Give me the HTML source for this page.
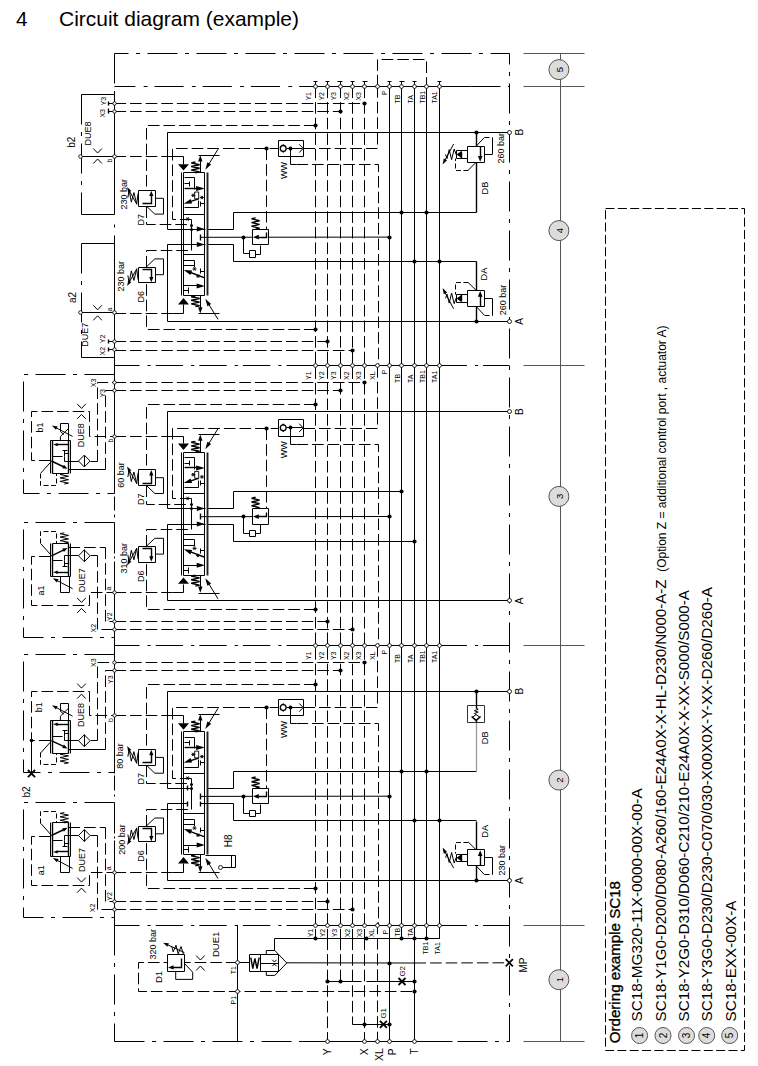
<!DOCTYPE html>
<html><head><meta charset="utf-8"><title>Circuit diagram (example)</title>
<style>
html,body{margin:0;padding:0;background:#fff}
svg{display:block}
text{font-family:"Liberation Sans",sans-serif;fill:#000}
.s{fill:none;stroke:#000;stroke-width:1}
.sw{fill:#fff;stroke:#000;stroke-width:1}
.t{fill:none;stroke:#000;stroke-width:.9}
.b{fill:none;stroke:#000;stroke-width:1.4}
.d2{fill:none;stroke:#000;stroke-width:1;stroke-dasharray:5 2.5}
.bx{fill:none;stroke:#000;stroke-width:1.8}
.bb{fill:none;stroke:#222;stroke-width:1.9}
.d{fill:none;stroke:#000;stroke-width:1;stroke-dasharray:11.6 4}
.dl{fill:none;stroke:#000;stroke-width:1;stroke-dasharray:9 3.35}
.dd{fill:none;stroke:#000;stroke-width:1;stroke-dasharray:30 7.5 4 7.5}
.dd1{stroke-dashoffset:16}
.dd2{fill:none;stroke:#000;stroke-width:1;stroke-dasharray:29.1 8.3 3.8 7;stroke-dashoffset:8.2}
.dd3{fill:none;stroke:#000;stroke-width:1;stroke-dasharray:27.4 8 3.2 5;stroke-dashoffset:2.4}
.dd4{fill:none;stroke:#000;stroke-width:1;stroke-dasharray:27.4 8 3.2 5}
.g{fill:none;stroke:#555;stroke-width:1}
.gw{fill:#fff;stroke:#333;stroke-width:1}
.g2{fill:none;stroke:#999;stroke-width:1.3}
.k{fill:#000;stroke:none}
.o{fill:#fff;stroke:#000;stroke-width:.85}
.o2{fill:#fff;stroke:#000;stroke-width:1.3}
.bal{fill:#dcdcdc;stroke:#555;stroke-width:1}
.hb{stroke:#000;stroke-width:.35}
</style></head><body>
<svg width="758" height="1066" viewBox="0 0 758 1066">
<rect width="758" height="1066" fill="#fff"/>
<text x="16" y="25.8" font-size="20.6">4</text>
<text x="59" y="25.8" font-size="20.6" textLength="240" lengthAdjust="spacingAndGlyphs">Circuit diagram (example)</text>
<path class="dd dd1" d="M114.5 53.5 L509.5 53.5 L509.5 1041.5 L114.5 1041.5"/>
<path class="dd" d="M114.5 53.5 L114.5 94.5"/>
<path class="s" d="M114.5 94.5 L114.5 214.5"/>
<path class="s" d="M114.5 224.5 L114.5 227.5"/>
<path class="s" d="M114.5 235.5 L114.5 365.5"/>
<path class="s" d="M114.5 365.5 L114.5 493.5"/>
<path class="s" d="M114.5 496.5 L114.5 510.5"/>
<path class="s" d="M114.5 514.5 L114.5 517.5"/>
<path class="s" d="M114.5 522.5 L114.5 553.5"/>
<path class="s" d="M114.5 556.5 L114.5 558.5"/>
<path class="s" d="M114.5 561.5 L114.5 645.5"/>
<path class="s" d="M114.5 645.5 L114.5 773.5"/>
<path class="s" d="M114.5 775.5 L114.5 790.5"/>
<path class="s" d="M114.5 794.5 L114.5 796.5"/>
<path class="s" d="M114.5 802.5 L114.5 833.5"/>
<path class="s" d="M114.5 836.5 L114.5 838.5"/>
<path class="s" d="M114.5 840.5 L114.5 925.5"/>
<path class="dd" d="M114.5 925.5 L114.5 1041.5"/>
<path class="dd2" d="M114.5 86.5 L315.5 86.5"/>
<path class="s" d="M315.5 86.5 L470.5 86.5"/>
<path class="dd" d="M470.5 86.5 L509.5 86.5"/>
<path class="dd3" d="M114.5 365.5 L315.5 365.5"/>
<path class="s" d="M315.5 365.5 L439.5 365.5"/>
<path class="dd4" d="M439.5 365.5 L509.5 365.5"/>
<path class="dd3" d="M114.5 645.5 L315.5 645.5"/>
<path class="s" d="M315.5 645.5 L439.5 645.5"/>
<path class="dd4" d="M439.5 645.5 L509.5 645.5"/>
<path class="dd3" d="M114.5 925.5 L315.5 925.5"/>
<path class="s" d="M315.5 925.5 L439.5 925.5"/>
<path class="dd4" d="M439.5 925.5 L509.5 925.5"/>
<path class="s" d="M300.5 1041.5 L452.5 1041.5"/>
<path class="g" d="M560.5 53.5 L560.5 1041.5"/>
<path class="g" d="M523.5 53.5 L584.5 53.5"/>
<path class="g" d="M523.5 86.5 L584.5 86.5"/>
<path class="g" d="M523.5 365.5 L584.5 365.5"/>
<path class="g" d="M523.5 645.5 L584.5 645.5"/>
<path class="g" d="M523.5 925.5 L584.5 925.5"/>
<path class="g" d="M523.5 1041.5 L584.5 1041.5"/>
<circle class="bal" cx="558.9" cy="69.6" r="10"/>
<text x="563.2" y="69.6" font-size="9.5" text-anchor="middle" transform="rotate(-90 563.2 69.6)">5</text>
<circle class="bal" cx="558.9" cy="230.6" r="10"/>
<text x="563.2" y="230.6" font-size="9.5" text-anchor="middle" transform="rotate(-90 563.2 230.6)">4</text>
<circle class="bal" cx="558.9" cy="496.4" r="10"/>
<text x="563.2" y="496.4" font-size="9.5" text-anchor="middle" transform="rotate(-90 563.2 496.4)">3</text>
<circle class="bal" cx="558.9" cy="780.1" r="10"/>
<text x="563.2" y="780.1" font-size="9.5" text-anchor="middle" transform="rotate(-90 563.2 780.1)">2</text>
<circle class="bal" cx="558.9" cy="979.7" r="10"/>
<text x="563.2" y="979.7" font-size="9.5" text-anchor="middle" transform="rotate(-90 563.2 979.7)">1</text>
<path class="d" d="M315.5 86.5 L315.5 938.5"/>
<path class="d" d="M327.5 86.5 L327.5 938.5"/>
<path class="d" d="M340.5 86.5 L340.5 938.5"/>
<path class="d" d="M352.5 86.5 L352.5 938.5"/>
<path class="d" d="M364.5 86.5 L364.5 938.5"/>
<path class="s" d="M389.5 86.5 L389.5 938.5"/>
<path class="s" d="M401.5 86.5 L401.5 938.5"/>
<path class="s" d="M414.5 86.5 L414.5 938.5"/>
<path class="s" d="M426.5 86.5 L426.5 938.5"/>
<path class="s" d="M439.5 86.5 L439.5 938.5"/>
<text x="311.5" y="100.6" font-size="7" text-anchor="start" transform="rotate(-90 311.5 100.6)">Y1</text>
<text x="323.8" y="100.6" font-size="7" text-anchor="start" transform="rotate(-90 323.8 100.6)">Y2</text>
<text x="336.2" y="100.6" font-size="7" text-anchor="start" transform="rotate(-90 336.2 100.6)">Y3</text>
<text x="348.7" y="100.6" font-size="7" text-anchor="start" transform="rotate(-90 348.7 100.6)">X2</text>
<text x="360.9" y="100.6" font-size="7" text-anchor="start" transform="rotate(-90 360.9 100.6)">X3</text>
<text x="387.2" y="95.0" font-size="7" text-anchor="start" transform="rotate(-90 387.2 95.0)">P</text>
<text x="400.0" y="103.6" font-size="7" text-anchor="start" transform="rotate(-90 400.0 103.6)">TB</text>
<text x="412.7" y="103.6" font-size="7" text-anchor="start" transform="rotate(-90 412.7 103.6)">TA</text>
<text x="424.9" y="103.6" font-size="7" text-anchor="start" transform="rotate(-90 424.9 103.6)">TB1</text>
<text x="437.4" y="103.6" font-size="7" text-anchor="start" transform="rotate(-90 437.4 103.6)">TA1</text>
<text x="311.5" y="379.9" font-size="7" text-anchor="start" transform="rotate(-90 311.5 379.9)">Y1</text>
<text x="323.8" y="379.9" font-size="7" text-anchor="start" transform="rotate(-90 323.8 379.9)">Y2</text>
<text x="336.2" y="379.9" font-size="7" text-anchor="start" transform="rotate(-90 336.2 379.9)">Y3</text>
<text x="348.7" y="379.9" font-size="7" text-anchor="start" transform="rotate(-90 348.7 379.9)">X2</text>
<text x="360.9" y="379.9" font-size="7" text-anchor="start" transform="rotate(-90 360.9 379.9)">X3</text>
<text x="375.5" y="379.9" font-size="7" text-anchor="start" transform="rotate(-90 375.5 379.9)">XL</text>
<text x="387.2" y="374.3" font-size="7" text-anchor="start" transform="rotate(-90 387.2 374.3)">P</text>
<text x="400.0" y="382.9" font-size="7" text-anchor="start" transform="rotate(-90 400.0 382.9)">TB</text>
<text x="412.7" y="382.9" font-size="7" text-anchor="start" transform="rotate(-90 412.7 382.9)">TA</text>
<text x="424.9" y="382.9" font-size="7" text-anchor="start" transform="rotate(-90 424.9 382.9)">TB1</text>
<text x="437.4" y="382.9" font-size="7" text-anchor="start" transform="rotate(-90 437.4 382.9)">TA1</text>
<text x="311.5" y="660.1" font-size="7" text-anchor="start" transform="rotate(-90 311.5 660.1)">Y1</text>
<text x="323.8" y="660.1" font-size="7" text-anchor="start" transform="rotate(-90 323.8 660.1)">Y2</text>
<text x="336.2" y="660.1" font-size="7" text-anchor="start" transform="rotate(-90 336.2 660.1)">Y3</text>
<text x="348.7" y="660.1" font-size="7" text-anchor="start" transform="rotate(-90 348.7 660.1)">X2</text>
<text x="360.9" y="660.1" font-size="7" text-anchor="start" transform="rotate(-90 360.9 660.1)">X3</text>
<text x="375.5" y="660.1" font-size="7" text-anchor="start" transform="rotate(-90 375.5 660.1)">XL</text>
<text x="387.2" y="654.5" font-size="7" text-anchor="start" transform="rotate(-90 387.2 654.5)">P</text>
<text x="400.0" y="663.1" font-size="7" text-anchor="start" transform="rotate(-90 400.0 663.1)">TB</text>
<text x="412.7" y="663.1" font-size="7" text-anchor="start" transform="rotate(-90 412.7 663.1)">TA</text>
<text x="424.9" y="663.1" font-size="7" text-anchor="start" transform="rotate(-90 424.9 663.1)">TB1</text>
<text x="437.4" y="663.1" font-size="7" text-anchor="start" transform="rotate(-90 437.4 663.1)">TA1</text>
<path class="s" d="M509.5 132.5 L167.5 132.5 L167.5 229.5 L205.5 229.5"/>
<path class="s" d="M509.5 321.5 L167.5 321.5 L167.5 244.5 L205.5 244.5"/>
<text x="523.2" y="135.5" font-size="10" text-anchor="start" transform="rotate(-90 523.2 135.5)">B</text>
<text x="523.2" y="324.8" font-size="10" text-anchor="start" transform="rotate(-90 523.2 324.8)">A</text>
<path class="s" d="M207.5 229.5 L233.5 229.5 L233.5 212.5 L476.5 212.5"/>
<path class="s" d="M207.5 244.5 L233.5 244.5 L233.5 261.5 L476.5 261.5"/>
<circle class="k" cx="401.5" cy="212.5" r="2.1"/>
<circle class="k" cx="414.5" cy="261.5" r="2.1"/>
<circle class="k" cx="426.5" cy="212.5" r="2.1"/>
<circle class="k" cx="439.5" cy="261.5" r="2.1"/>
<path class="s" d="M200.7 237.3 L389.5 237.1"/>
<circle class="k" cx="389.5" cy="237.5" r="2.1"/>
<path class="sw" d="M252.5 229.5 L268.5 229.5 L268.5 244.5 L252.5 244.5 Z"/>
<circle class="k" cx="243.5" cy="237.5" r="2.0"/>
<polygon class="k" points="253.0,237.2 258.8,234.8 258.8,239.6"/>
<path class="s" d="M243.5 237.5 L243.5 253.5 L249.5 253.5"/>
<path class="sw" d="M249.5 250.5 L255.5 250.5 L255.5 257.5 L249.5 257.5 Z"/>
<path class="s" d="M255.5 254.5 L260.5 254.5 L260.5 245.5"/>
<path class="b" d="M255.6 229.1 L259.6 228.2 L251.6 226.3 L259.6 224.4 L251.6 222.6 L259.6 220.7 L251.6 218.8 L255.6 217.9"/>
<path class="b" d="M266.5 232.5 L266.5 237.5 L258.5 237.5"/>
<path class="d" d="M191.5 219.5 L172.5 219.5 L172.5 148.5 L278.5 148.5"/>
<circle class="k" cx="266.5" cy="148.5" r="2.1"/>
<path class="d" d="M266.5 148.5 L266.5 229.5"/>
<path class="s" d="M278.5 140.5 L303.5 140.5 L303.5 156.5 L278.5 156.5 Z"/>
<circle class="o2" cx="283.2" cy="148.4" r="2.9"/>
<circle class="k" cx="290.5" cy="148.5" r="2.0"/>
<path class="s" d="M286.5 148.5 L302.5 148.5"/>
<path class="s" d="M299.2 144.3 L303.2 148.4 L299.2 152.6"/>
<polygon class="k" points="283.2,143.9 281.6,145.8 284.8,145.8"/>
<polygon class="k" points="283.2,152.9 281.6,151.0 284.8,151.0"/>
<path class="s" d="M290.5 148.5 L290.5 164.5 L296.5 164.5"/>
<text x="286.9" y="178.9" font-size="9" text-anchor="start" transform="rotate(-90 286.9 178.9)">WW</text>
<path class="d" d="M303.5 148.5 L377.5 148.5 L377.5 86.5"/>
<path class="d" d="M296.5 164.5 L378.5 164.5 L378.5 365.5"/>
<path class="d" d="M114.5 156.5 L172.5 156.5"/>
<path class="s" d="M172.5 156.5 L183.5 156.5 L183.5 164.5"/>
<path class="d" d="M114.5 313.5 L172.5 313.5"/>
<path class="s" d="M172.5 313.5 L183.5 313.5 L183.5 304.5"/>
<path class="d" d="M114.5 103.5 L364.5 103.5"/>
<circle class="k" cx="364.5" cy="103.5" r="2.1"/>
<path class="d" d="M114.5 111.5 L340.5 111.5"/>
<circle class="k" cx="340.5" cy="111.5" r="2.1"/>
<path class="d" d="M114.5 341.5 L327.5 341.5"/>
<circle class="k" cx="327.5" cy="341.5" r="2.1"/>
<path class="d" d="M114.5 350.5 L352.5 350.5"/>
<circle class="k" cx="352.5" cy="350.5" r="2.1"/>
<path class="d" d="M315.5 125.5 L146.5 125.5 L146.5 190.5"/>
<circle class="k" cx="315.5" cy="125.5" r="2.1"/>
<path class="s" d="M138.5 190.5 L155.5 190.5 L155.5 206.5 L138.5 206.5 Z"/>
<path class="b" d="M142.5 203.5 L151.5 203.5 L151.5 194.5"/>
<polygon class="k" points="151.3,190.7 149.2,196.1 153.4,196.1"/>
<path class="s" d="M155.5 198.3 L163.5 198.3 L163.5 214.1 L154.8 214.1 L146.7 206.4"/>
<path class="s" d="M138.1 193.4 L136.7 204.1 L133.9 192.6 L131.3 202.1 L129.1 189.8 L127.9 197.6"/>
<path class="s" d="M136.9 204.4 L128.7 189.9"/>
<polygon class="k" points="127.1,187.0 131.4,190.9 128.2,192.7"/>
<path class="d" d="M146.5 206.5 L146.5 224.5 L191.5 224.5"/>
<path class="d" d="M315.5 329.5 L146.5 329.5 L146.5 282.5"/>
<circle class="k" cx="315.5" cy="329.5" r="2.1"/>
<path class="s" d="M138.5 267.5 L155.5 267.5 L155.5 282.5 L138.5 282.5 Z"/>
<path class="b" d="M142.5 269.5 L151.5 269.5 L151.5 278.5"/>
<polygon class="k" points="151.3,282.3 149.2,276.9 153.4,276.9"/>
<path class="s" d="M155.5 274.7 L163.5 274.7 L163.5 258.9 L154.8 258.9 L146.7 266.6"/>
<path class="s" d="M138.1 279.6 L136.7 268.9 L133.9 280.4 L131.3 270.9 L129.1 283.2 L127.9 275.4"/>
<path class="s" d="M136.9 268.6 L128.7 283.1"/>
<polygon class="k" points="127.1,286.0 128.2,280.3 131.4,282.1"/>
<path class="d" d="M146.5 267.5 L146.5 250.5 L191.5 250.5"/>
<path class="s" d="M181.5 172.5 L181.5 295.5"/>
<path class="s" d="M183.5 172.5 L183.5 295.5"/>
<path class="s" d="M204.5 172.5 L204.5 295.5"/>
<path class="bb" d="M207.5 172.5 L207.5 295.5"/>
<path class="s" d="M183.5 172.5 L204.5 172.5"/>
<path class="s" d="M183.5 214.5 L204.5 214.5"/>
<path class="s" d="M183.5 254.5 L204.5 254.5"/>
<path class="s" d="M183.5 295.5 L204.5 295.5"/>
<polygon class="k" points="178.0,164.2 189.0,164.2 183.5,170.6"/>
<path class="b" d="M195.4 172.8 L199.6 171.9 L191.2 170.1 L199.6 168.3 L191.2 166.5 L199.6 164.7 L191.2 162.9 L195.4 162.0"/>
<path class="s" d="M200.5 172.5 L200.5 158.5"/>
<polygon class="k" points="200.3,155.2 198.1,161.4 202.5,161.4"/>
<path class="s" d="M198.5 155.5 L219.5 155.5"/>
<path class="s" d="M218.0 149.2 L207.7 166.0"/>
<polygon class="k" points="205.3,169.8 207.4,162.3 211.1,164.6"/>
<polygon class="k" points="178.0,304.4 189.0,304.4 183.5,298.0"/>
<path class="b" d="M195.4 295.8 L191.2 296.7 L199.6 298.5 L191.2 300.3 L199.6 302.1 L191.2 303.9 L199.6 305.7 L195.4 306.6"/>
<path class="s" d="M200.5 295.5 L200.5 310.5"/>
<polygon class="k" points="200.3,313.4 198.1,307.2 202.5,307.2"/>
<path class="s" d="M198.5 313.5 L219.5 313.5"/>
<path class="s" d="M218.0 319.4 L207.7 302.6"/>
<polygon class="k" points="205.3,298.8 211.1,304.0 207.4,306.3"/>
<path class="s" d="M184.5 177.5 L194.5 177.5 L194.5 189.5"/>
<path class="s" d="M184.5 183.5 L189.5 183.5"/>
<path class="s" d="M189.5 181.5 L189.5 186.5"/>
<path class="b" d="M184.5 188.5 L198.5 188.5"/>
<polygon class="k" points="204.9,188.5 196.1,186.0 196.1,191.0"/>
<path class="b" d="M198.7 198.9 L190.0 201.7"/>
<polygon class="k" points="183.7,203.7 190.6,199.0 192.1,203.5"/>
<path class="t" d="M191.2 195.3 L195.2 195.3"/>
<path class="t" d="M192.2 193.6 L194.2 197.0"/>
<path class="t" d="M194.2 193.6 L192.2 197.0"/>
<path class="t" d="M199.9 197.5 L203.9 197.5"/>
<path class="t" d="M200.9 195.8 L202.9 199.2"/>
<path class="t" d="M202.9 195.8 L200.9 199.2"/>
<path class="t" d="M194.7 192.0 L198.7 192.0 L198.7 198.9 L194.7 198.9 Z"/>
<path class="s" d="M200.5 201.5 L200.5 206.5"/>
<path class="s" d="M200.5 203.5 L204.5 203.5"/>
<path class="s" d="M184.5 207.5 L198.5 207.5 L198.5 200.5"/>
<path class="s" d="M183.5 260.5 L194.5 260.5 L194.5 267.5"/>
<path class="s" d="M183.5 265.5 L194.5 265.5"/>
<path class="b" d="M204.1 277.6 L190.5 272.5"/>
<polygon class="k" points="183.8,269.9 192.1,270.5 190.4,275.0"/>
<path class="t" d="M192.5 269.0 L196.5 269.0"/>
<path class="t" d="M193.5 267.3 L195.5 270.7"/>
<path class="t" d="M195.5 267.3 L193.5 270.7"/>
<path class="t" d="M196.0 276.1 L200.0 276.1"/>
<path class="t" d="M197.0 274.4 L199.0 277.8"/>
<path class="t" d="M199.0 274.4 L197.0 277.8"/>
<path class="s" d="M200.5 268.5 L200.5 273.5"/>
<path class="s" d="M200.5 271.5 L204.5 271.5"/>
<path class="s" d="M183.5 285.5 L198.5 285.5"/>
<polygon class="k" points="204.9,285.9 196.7,283.4 196.7,288.4"/>
<path class="s" d="M188.5 287.5 L188.5 293.5"/>
<path class="s" d="M183.5 290.5 L188.5 290.5"/>
<path class="t" d="M185.7 219.0 L189.7 219.0"/>
<path class="t" d="M186.7 217.3 L188.7 220.7"/>
<path class="t" d="M188.7 217.3 L186.7 220.7"/>
<path class="s" d="M191.5 219.5 L191.5 250.5"/>
<circle class="k" cx="191.5" cy="225.5" r="1.5"/>
<circle class="k" cx="191.5" cy="229.5" r="1.5"/>
<path class="b" d="M200.5 234.5 L200.5 240.5"/>
<polygon class="k" points="204.9,229.1 196.8,226.6 196.8,231.6"/>
<polygon class="k" points="204.9,244.6 196.8,242.1 196.8,247.1"/>
<path class="s" d="M509.5 411.5 L167.5 411.5 L167.5 508.5 L205.5 508.5"/>
<path class="s" d="M509.5 600.5 L167.5 600.5 L167.5 524.5 L205.5 524.5"/>
<text x="523.2" y="414.9" font-size="10" text-anchor="start" transform="rotate(-90 523.2 414.9)">B</text>
<text x="523.2" y="604.2" font-size="10" text-anchor="start" transform="rotate(-90 523.2 604.2)">A</text>
<path class="s" d="M207.5 508.5 L233.5 508.5 L233.5 491.5 L401.5 491.5"/>
<path class="s" d="M207.5 524.5 L233.5 524.5 L233.5 541.5 L414.5 541.5"/>
<circle class="k" cx="401.5" cy="491.5" r="2.1"/>
<circle class="k" cx="414.5" cy="541.5" r="2.1"/>
<path class="s" d="M200.7 516.7 L389.5 516.5"/>
<circle class="k" cx="389.5" cy="516.5" r="2.1"/>
<path class="sw" d="M252.5 508.5 L268.5 508.5 L268.5 524.5 L252.5 524.5 Z"/>
<circle class="k" cx="243.5" cy="516.5" r="2.0"/>
<polygon class="k" points="253.0,516.6 258.8,514.2 258.8,519.0"/>
<path class="s" d="M243.5 516.5 L243.5 533.5 L249.5 533.5"/>
<path class="sw" d="M249.5 530.5 L255.5 530.5 L255.5 536.5 L249.5 536.5 Z"/>
<path class="s" d="M255.5 533.5 L260.5 533.5 L260.5 524.5"/>
<path class="b" d="M255.6 508.5 L259.6 507.6 L251.6 505.7 L259.6 503.8 L251.6 502.0 L259.6 500.1 L251.6 498.2 L255.6 497.3"/>
<path class="b" d="M266.5 512.5 L266.5 516.5 L258.5 516.5"/>
<path class="d" d="M191.5 498.5 L172.5 498.5 L172.5 428.5 L278.5 428.5"/>
<circle class="k" cx="266.5" cy="428.5" r="2.1"/>
<path class="d" d="M266.5 428.5 L266.5 508.5"/>
<path class="s" d="M278.5 419.5 L303.5 419.5 L303.5 436.5 L278.5 436.5 Z"/>
<circle class="o2" cx="283.2" cy="427.8" r="2.9"/>
<circle class="k" cx="290.5" cy="427.5" r="2.0"/>
<path class="s" d="M286.5 427.5 L302.5 427.5"/>
<path class="s" d="M299.2 423.7 L303.2 427.8 L299.2 432.0"/>
<polygon class="k" points="283.2,423.3 281.6,425.2 284.8,425.2"/>
<polygon class="k" points="283.2,432.3 281.6,430.4 284.8,430.4"/>
<path class="s" d="M290.5 427.5 L290.5 444.5 L296.5 444.5"/>
<text x="286.9" y="458.3" font-size="9" text-anchor="start" transform="rotate(-90 286.9 458.3)">WW</text>
<path class="d" d="M303.5 428.5 L377.5 428.5 L377.5 365.5"/>
<path class="d" d="M296.5 444.5 L378.5 444.5 L378.5 645.5"/>
<path class="d" d="M114.5 436.5 L172.5 436.5"/>
<path class="s" d="M172.5 436.5 L183.5 436.5 L183.5 443.5"/>
<path class="d" d="M114.5 592.5 L172.5 592.5"/>
<path class="s" d="M172.5 592.5 L183.5 592.5 L183.5 584.5"/>
<path class="d" d="M114.5 382.5 L364.5 382.5"/>
<circle class="k" cx="364.5" cy="382.5" r="2.1"/>
<path class="d" d="M114.5 390.5 L340.5 390.5"/>
<circle class="k" cx="340.5" cy="390.5" r="2.1"/>
<path class="d" d="M114.5 621.5 L327.5 621.5"/>
<circle class="k" cx="327.5" cy="621.5" r="2.1"/>
<path class="d" d="M114.5 629.5 L352.5 629.5"/>
<circle class="k" cx="352.5" cy="629.5" r="2.1"/>
<path class="d" d="M315.5 404.5 L146.5 404.5 L146.5 469.5"/>
<circle class="k" cx="315.5" cy="404.5" r="2.1"/>
<path class="s" d="M138.5 469.5 L155.5 469.5 L155.5 485.5 L138.5 485.5 Z"/>
<path class="b" d="M142.5 483.5 L151.5 483.5 L151.5 473.5"/>
<polygon class="k" points="151.3,470.1 149.2,475.5 153.4,475.5"/>
<path class="s" d="M155.5 477.7 L163.5 477.7 L163.5 493.5 L154.8 493.5 L146.7 485.8"/>
<path class="s" d="M138.1 472.8 L136.7 483.5 L133.9 472.0 L131.3 481.5 L129.1 469.2 L127.9 477.0"/>
<path class="s" d="M136.9 483.8 L128.7 469.3"/>
<polygon class="k" points="127.1,466.4 131.4,470.3 128.2,472.1"/>
<path class="d" d="M146.5 485.5 L146.5 504.5 L191.5 504.5"/>
<path class="d" d="M315.5 609.5 L146.5 609.5 L146.5 562.5"/>
<circle class="k" cx="315.5" cy="609.5" r="2.1"/>
<path class="s" d="M138.5 546.5 L155.5 546.5 L155.5 562.5 L138.5 562.5 Z"/>
<path class="b" d="M142.5 548.5 L151.5 548.5 L151.5 558.5"/>
<polygon class="k" points="151.3,561.7 149.2,556.3 153.4,556.3"/>
<path class="s" d="M155.5 554.1 L163.5 554.1 L163.5 538.3 L154.8 538.3 L146.7 546.0"/>
<path class="s" d="M138.1 559.0 L136.7 548.3 L133.9 559.8 L131.3 550.3 L129.1 562.6 L127.9 554.8"/>
<path class="s" d="M136.9 548.0 L128.7 562.5"/>
<polygon class="k" points="127.1,565.4 128.2,559.7 131.4,561.5"/>
<path class="d" d="M146.5 546.5 L146.5 529.5 L191.5 529.5"/>
<path class="s" d="M181.5 452.5 L181.5 575.5"/>
<path class="s" d="M183.5 452.5 L183.5 575.5"/>
<path class="s" d="M204.5 452.5 L204.5 575.5"/>
<path class="bb" d="M207.5 452.5 L207.5 575.5"/>
<path class="s" d="M183.5 452.5 L204.5 452.5"/>
<path class="s" d="M183.5 493.5 L204.5 493.5"/>
<path class="s" d="M183.5 534.5 L204.5 534.5"/>
<path class="s" d="M183.5 575.5 L204.5 575.5"/>
<polygon class="k" points="178.0,443.6 189.0,443.6 183.5,450.0"/>
<path class="b" d="M195.4 452.2 L199.6 451.3 L191.2 449.5 L199.6 447.7 L191.2 445.9 L199.6 444.1 L191.2 442.3 L195.4 441.4"/>
<path class="s" d="M200.5 452.5 L200.5 438.5"/>
<polygon class="k" points="200.3,434.6 198.1,440.8 202.5,440.8"/>
<path class="s" d="M198.5 434.5 L219.5 434.5"/>
<path class="s" d="M218.0 428.6 L207.7 445.4"/>
<polygon class="k" points="205.3,449.2 207.4,441.7 211.1,444.0"/>
<polygon class="k" points="178.0,583.8 189.0,583.8 183.5,577.4"/>
<path class="b" d="M195.4 575.2 L191.2 576.1 L199.6 577.9 L191.2 579.7 L199.6 581.5 L191.2 583.3 L199.6 585.1 L195.4 586.0"/>
<path class="s" d="M200.5 575.5 L200.5 589.5"/>
<polygon class="k" points="200.3,592.8 198.1,586.6 202.5,586.6"/>
<path class="s" d="M198.5 593.5 L219.5 593.5"/>
<path class="s" d="M218.0 598.8 L207.7 582.0"/>
<polygon class="k" points="205.3,578.2 211.1,583.4 207.4,585.7"/>
<path class="s" d="M184.5 457.5 L194.5 457.5 L194.5 469.5"/>
<path class="s" d="M184.5 463.5 L189.5 463.5"/>
<path class="s" d="M189.5 460.5 L189.5 465.5"/>
<path class="b" d="M184.5 467.5 L198.5 467.5"/>
<polygon class="k" points="204.9,467.9 196.1,465.4 196.1,470.4"/>
<path class="b" d="M198.7 478.3 L190.0 481.1"/>
<polygon class="k" points="183.7,483.1 190.6,478.4 192.1,482.9"/>
<path class="t" d="M191.2 474.7 L195.2 474.7"/>
<path class="t" d="M192.2 473.0 L194.2 476.4"/>
<path class="t" d="M194.2 473.0 L192.2 476.4"/>
<path class="t" d="M199.9 476.9 L203.9 476.9"/>
<path class="t" d="M200.9 475.2 L202.9 478.6"/>
<path class="t" d="M202.9 475.2 L200.9 478.6"/>
<path class="t" d="M194.7 471.4 L198.7 471.4 L198.7 478.3 L194.7 478.3 Z"/>
<path class="s" d="M200.5 480.5 L200.5 485.5"/>
<path class="s" d="M200.5 483.5 L204.5 483.5"/>
<path class="s" d="M184.5 487.5 L198.5 487.5 L198.5 480.5"/>
<path class="s" d="M183.5 539.5 L194.5 539.5 L194.5 546.5"/>
<path class="s" d="M183.5 545.5 L194.5 545.5"/>
<path class="b" d="M204.1 557.0 L190.5 551.9"/>
<polygon class="k" points="183.8,549.3 192.1,549.9 190.4,554.4"/>
<path class="t" d="M192.5 548.4 L196.5 548.4"/>
<path class="t" d="M193.5 546.7 L195.5 550.1"/>
<path class="t" d="M195.5 546.7 L193.5 550.1"/>
<path class="t" d="M196.0 555.5 L200.0 555.5"/>
<path class="t" d="M197.0 553.8 L199.0 557.2"/>
<path class="t" d="M199.0 553.8 L197.0 557.2"/>
<path class="s" d="M200.5 548.5 L200.5 553.5"/>
<path class="s" d="M200.5 550.5 L204.5 550.5"/>
<path class="s" d="M183.5 565.5 L198.5 565.5"/>
<polygon class="k" points="204.9,565.3 196.7,562.8 196.7,567.8"/>
<path class="s" d="M188.5 567.5 L188.5 573.5"/>
<path class="s" d="M183.5 570.5 L188.5 570.5"/>
<path class="t" d="M185.7 498.4 L189.7 498.4"/>
<path class="t" d="M186.7 496.7 L188.7 500.1"/>
<path class="t" d="M188.7 496.7 L186.7 500.1"/>
<path class="s" d="M191.5 498.5 L191.5 529.5"/>
<circle class="k" cx="191.5" cy="504.5" r="1.5"/>
<circle class="k" cx="191.5" cy="508.5" r="1.5"/>
<path class="b" d="M200.5 513.5 L200.5 519.5"/>
<polygon class="k" points="204.9,508.5 196.8,506.0 196.8,511.0"/>
<polygon class="k" points="204.9,524.0 196.8,521.5 196.8,526.5"/>
<path class="s" d="M509.5 691.5 L167.5 691.5 L167.5 788.5 L191.5 788.5"/>
<path class="s" d="M509.5 880.5 L167.5 880.5 L167.5 803.5 L187.5 803.5"/>
<text x="523.2" y="694.6" font-size="10" text-anchor="start" transform="rotate(-90 523.2 694.6)">B</text>
<text x="523.2" y="883.9" font-size="10" text-anchor="start" transform="rotate(-90 523.2 883.9)">A</text>
<path class="s" d="M207.5 788.5 L233.5 788.5 L233.5 771.5 L476.5 771.5"/>
<path class="s" d="M207.5 803.5 L233.5 803.5 L233.5 820.5 L476.5 820.5"/>
<circle class="k" cx="401.5" cy="771.5" r="2.1"/>
<circle class="k" cx="414.5" cy="820.5" r="2.1"/>
<circle class="k" cx="426.5" cy="771.5" r="2.1"/>
<circle class="k" cx="439.5" cy="820.5" r="2.1"/>
<path class="s" d="M200.7 796.4 L389.5 796.2"/>
<circle class="k" cx="389.5" cy="796.5" r="2.1"/>
<path class="sw" d="M252.5 788.5 L268.5 788.5 L268.5 803.5 L252.5 803.5 Z"/>
<circle class="k" cx="243.5" cy="796.5" r="2.0"/>
<polygon class="k" points="253.0,796.3 258.8,793.9 258.8,798.7"/>
<path class="s" d="M243.5 796.5 L243.5 813.5 L249.5 813.5"/>
<path class="sw" d="M249.5 810.5 L255.5 810.5 L255.5 816.5 L249.5 816.5 Z"/>
<path class="s" d="M255.5 813.5 L260.5 813.5 L260.5 804.5"/>
<path class="b" d="M255.6 788.2 L259.6 787.3 L251.6 785.4 L259.6 783.5 L251.6 781.7 L259.6 779.8 L251.6 777.9 L255.6 777.0"/>
<path class="b" d="M266.5 791.5 L266.5 796.5 L258.5 796.5"/>
<path class="d" d="M191.5 778.5 L172.5 778.5 L172.5 707.5 L278.5 707.5"/>
<circle class="k" cx="266.5" cy="707.5" r="2.1"/>
<path class="d" d="M266.5 707.5 L266.5 788.5"/>
<path class="s" d="M278.5 699.5 L303.5 699.5 L303.5 715.5 L278.5 715.5 Z"/>
<circle class="o2" cx="283.2" cy="707.5" r="2.9"/>
<circle class="k" cx="290.5" cy="707.5" r="2.0"/>
<path class="s" d="M286.5 707.5 L302.5 707.5"/>
<path class="s" d="M299.2 703.4 L303.2 707.5 L299.2 711.7"/>
<polygon class="k" points="283.2,703.0 281.6,704.9 284.8,704.9"/>
<polygon class="k" points="283.2,712.0 281.6,710.1 284.8,710.1"/>
<path class="s" d="M290.5 707.5 L290.5 723.5 L296.5 723.5"/>
<text x="286.9" y="738.0" font-size="9" text-anchor="start" transform="rotate(-90 286.9 738.0)">WW</text>
<path class="d" d="M303.5 707.5 L377.5 707.5 L377.5 645.5"/>
<path class="d" d="M296.5 723.5 L378.5 723.5 L378.5 925.5"/>
<path class="d" d="M114.5 715.5 L172.5 715.5"/>
<path class="s" d="M172.5 715.5 L183.5 715.5 L183.5 723.5"/>
<path class="d" d="M114.5 872.5 L172.5 872.5"/>
<path class="s" d="M172.5 872.5 L183.5 872.5 L183.5 863.5"/>
<path class="d" d="M114.5 662.5 L364.5 662.5"/>
<circle class="k" cx="364.5" cy="662.5" r="2.1"/>
<path class="d" d="M114.5 670.5 L340.5 670.5"/>
<circle class="k" cx="340.5" cy="670.5" r="2.1"/>
<path class="d" d="M114.5 901.5 L327.5 901.5"/>
<circle class="k" cx="327.5" cy="901.5" r="2.1"/>
<path class="d" d="M114.5 909.5 L352.5 909.5"/>
<circle class="k" cx="352.5" cy="909.5" r="2.1"/>
<path class="d" d="M315.5 684.5 L146.5 684.5 L146.5 749.5"/>
<circle class="k" cx="315.5" cy="684.5" r="2.1"/>
<path class="s" d="M138.5 749.5 L155.5 749.5 L155.5 765.5 L138.5 765.5 Z"/>
<path class="b" d="M142.5 762.5 L151.5 762.5 L151.5 753.5"/>
<polygon class="k" points="151.3,749.8 149.2,755.2 153.4,755.2"/>
<path class="s" d="M155.5 757.4 L163.5 757.4 L163.5 773.2 L154.8 773.2 L146.7 765.5"/>
<path class="s" d="M138.1 752.5 L136.7 763.2 L133.9 751.7 L131.3 761.2 L129.1 748.9 L127.9 756.7"/>
<path class="s" d="M136.9 763.5 L128.7 749.0"/>
<polygon class="k" points="127.1,746.1 131.4,750.0 128.2,751.8"/>
<path class="d" d="M146.5 765.5 L146.5 783.5 L191.5 783.5"/>
<path class="d" d="M315.5 888.5 L146.5 888.5 L146.5 842.5"/>
<circle class="k" cx="315.5" cy="888.5" r="2.1"/>
<path class="s" d="M138.5 826.5 L155.5 826.5 L155.5 841.5 L138.5 841.5 Z"/>
<path class="b" d="M142.5 828.5 L151.5 828.5 L151.5 837.5"/>
<polygon class="k" points="151.3,841.4 149.2,836.0 153.4,836.0"/>
<path class="s" d="M155.5 833.8 L163.5 833.8 L163.5 818.0 L154.8 818.0 L146.7 825.7"/>
<path class="s" d="M138.1 838.7 L136.7 828.0 L133.9 839.5 L131.3 830.0 L129.1 842.3 L127.9 834.5"/>
<path class="s" d="M136.9 827.7 L128.7 842.2"/>
<polygon class="k" points="127.1,845.1 128.2,839.4 131.4,841.2"/>
<path class="d" d="M146.5 826.5 L146.5 809.5 L191.5 809.5"/>
<path class="s" d="M181.5 731.5 L181.5 854.5"/>
<path class="s" d="M183.5 731.5 L183.5 854.5"/>
<path class="s" d="M204.5 731.5 L204.5 854.5"/>
<path class="bb" d="M207.5 731.5 L207.5 854.5"/>
<path class="s" d="M183.5 731.5 L204.5 731.5"/>
<path class="s" d="M183.5 773.5 L204.5 773.5"/>
<path class="s" d="M183.5 813.5 L204.5 813.5"/>
<path class="s" d="M183.5 854.5 L204.5 854.5"/>
<polygon class="k" points="178.0,723.3 189.0,723.3 183.5,729.7"/>
<path class="b" d="M195.4 731.9 L199.6 731.0 L191.2 729.2 L199.6 727.4 L191.2 725.6 L199.6 723.8 L191.2 722.0 L195.4 721.1"/>
<path class="s" d="M200.5 731.5 L200.5 717.5"/>
<polygon class="k" points="200.3,714.3 198.1,720.5 202.5,720.5"/>
<path class="s" d="M198.5 714.5 L219.5 714.5"/>
<path class="s" d="M218.0 708.3 L207.7 725.1"/>
<polygon class="k" points="205.3,728.9 207.4,721.4 211.1,723.7"/>
<polygon class="k" points="178.0,863.5 189.0,863.5 183.5,857.1"/>
<path class="b" d="M195.4 854.9 L191.2 855.8 L199.6 857.6 L191.2 859.4 L199.6 861.2 L191.2 863.0 L199.6 864.8 L195.4 865.7"/>
<path class="s" d="M200.5 854.5 L200.5 869.5"/>
<polygon class="k" points="200.3,872.5 198.1,866.3 202.5,866.3"/>
<path class="s" d="M198.5 872.5 L219.5 872.5"/>
<path class="s" d="M218.0 878.5 L207.7 861.7"/>
<polygon class="k" points="205.3,857.9 211.1,863.1 207.4,865.4"/>
<path class="s" d="M184.5 737.5 L194.5 737.5 L194.5 748.5"/>
<path class="s" d="M184.5 742.5 L189.5 742.5"/>
<path class="s" d="M189.5 740.5 L189.5 745.5"/>
<path class="b" d="M184.5 747.5 L198.5 747.5"/>
<polygon class="k" points="204.9,747.6 196.1,745.1 196.1,750.1"/>
<path class="b" d="M198.7 758.0 L190.0 760.8"/>
<polygon class="k" points="183.7,762.8 190.6,758.1 192.1,762.6"/>
<path class="t" d="M191.2 754.4 L195.2 754.4"/>
<path class="t" d="M192.2 752.7 L194.2 756.1"/>
<path class="t" d="M194.2 752.7 L192.2 756.1"/>
<path class="t" d="M199.9 756.6 L203.9 756.6"/>
<path class="t" d="M200.9 754.9 L202.9 758.3"/>
<path class="t" d="M202.9 754.9 L200.9 758.3"/>
<path class="t" d="M194.7 751.1 L198.7 751.1 L198.7 758.0 L194.7 758.0 Z"/>
<path class="s" d="M200.5 760.5 L200.5 765.5"/>
<path class="s" d="M200.5 762.5 L204.5 762.5"/>
<path class="s" d="M184.5 767.5 L198.5 767.5 L198.5 759.5"/>
<path class="s" d="M183.5 819.5 L194.5 819.5 L194.5 826.5"/>
<path class="s" d="M183.5 824.5 L194.5 824.5"/>
<path class="b" d="M204.1 836.7 L190.5 831.6"/>
<polygon class="k" points="183.8,829.0 192.1,829.6 190.4,834.1"/>
<path class="t" d="M192.5 828.1 L196.5 828.1"/>
<path class="t" d="M193.5 826.4 L195.5 829.8"/>
<path class="t" d="M195.5 826.4 L193.5 829.8"/>
<path class="t" d="M196.0 835.2 L200.0 835.2"/>
<path class="t" d="M197.0 833.5 L199.0 836.9"/>
<path class="t" d="M199.0 833.5 L197.0 836.9"/>
<path class="s" d="M200.5 827.5 L200.5 832.5"/>
<path class="s" d="M200.5 830.5 L204.5 830.5"/>
<path class="s" d="M183.5 845.5 L198.5 845.5"/>
<polygon class="k" points="204.9,845.0 196.7,842.5 196.7,847.5"/>
<path class="s" d="M188.5 846.5 L188.5 852.5"/>
<path class="s" d="M183.5 849.5 L188.5 849.5"/>
<path class="t" d="M185.7 778.1 L189.7 778.1"/>
<path class="t" d="M186.7 776.4 L188.7 779.8"/>
<path class="t" d="M188.7 776.4 L186.7 779.8"/>
<path class="s" d="M191.5 778.5 L191.5 809.5"/>
<circle class="k" cx="191.5" cy="784.5" r="1.5"/>
<circle class="k" cx="191.5" cy="788.5" r="1.5"/>
<path class="b" d="M200.5 793.5 L200.5 799.5"/>
<path class="b" d="M187.5 785.5 L187.5 790.5"/>
<path class="b" d="M187.5 801.5 L187.5 806.5"/>
<path class="b" d="M200.5 801.5 L200.5 806.5"/>
<path class="s" d="M200.5 803.5 L207.5 803.5"/>
<path class="s" d="M50.5 440.5 L50.5 473.5"/>
<path class="b" d="M52.5 440.5 L52.5 473.5"/>
<path class="b" d="M68.5 440.5 L68.5 473.5"/>
<path class="s" d="M70.5 440.5 L70.5 473.5"/>
<path class="s" d="M50.5 440.5 L70.5 440.5"/>
<path class="s" d="M52.5 473.5 L68.5 473.5"/>
<path class="s" d="M52.5 456.5 L62.5 456.5"/>
<path class="b" d="M68.5 444.5 L56.5 444.5"/>
<polygon class="k" points="53.2,444.6 57.7,442.9 57.7,446.3"/>
<path class="s" d="M64.5 450.5 L64.5 456.5"/>
<path class="s" d="M62.5 450.5 L67.5 450.5"/>
<path class="s" d="M64.5 453.5 L68.5 453.5"/>
<path class="s" d="M64.5 456.5 L64.5 461.5 L78.5 461.5"/>
<path class="b" d="M51.4 461.0 L64.0 467.0"/>
<polygon class="k" points="67.6,468.7 62.3,468.3 63.9,464.8"/>
<path class="s" d="M60.5 431.5 L60.5 423.5 L68.5 423.5 L68.5 440.5"/>
<path class="s" d="M60.4 440.4 L60.4 436.5 L68.5 428.5"/>
<path class="s" d="M60.4 431.5 L64.0 434.5"/>
<path class="s" d="M72.5 436.4 L54.8 427.1"/>
<polygon class="k" points="51.9,425.6 57.7,426.5 55.9,429.8"/>
<path class="s" d="M64.3 473.6 L60.1 474.5 L68.5 476.2 L60.1 477.9 L68.5 479.7 L60.1 481.4 L68.5 483.1 L64.3 484.0"/>
<path class="s" d="M50.3 462.5 L40.8 473.1"/>
<path class="d2" d="M40.5 473.5 L40.5 485.5 L56.5 485.5 L56.5 473.5"/>
<path class="s" d="M78.5 461.0 L84.3 455.1 L90.1 461.0 L84.3 466.9 Z"/>
<path class="s" d="M84.5 455.5 L84.5 466.5"/>
<path class="s" d="M90.5 461.5 L97.5 461.5"/>
<path class="s" d="M68.5 469.5 L105.5 469.5"/>
<path class="s" d="M50.5 576.5 L50.5 543.5"/>
<path class="b" d="M52.5 576.5 L52.5 543.5"/>
<path class="b" d="M68.5 576.5 L68.5 543.5"/>
<path class="s" d="M70.5 576.5 L70.5 543.5"/>
<path class="s" d="M50.5 576.5 L70.5 576.5"/>
<path class="s" d="M52.5 543.5 L68.5 543.5"/>
<path class="s" d="M52.5 560.5 L62.5 560.5"/>
<path class="b" d="M68.5 572.5 L56.5 572.5"/>
<polygon class="k" points="53.2,572.2 57.7,570.5 57.7,573.9"/>
<path class="s" d="M64.5 566.5 L64.5 560.5"/>
<path class="s" d="M62.5 566.5 L67.5 566.5"/>
<path class="s" d="M64.5 563.5 L68.5 563.5"/>
<path class="s" d="M64.5 560.5 L64.5 555.5 L78.5 555.5"/>
<path class="b" d="M51.4 555.8 L64.0 549.8"/>
<polygon class="k" points="67.6,548.1 63.9,552.0 62.3,548.5"/>
<path class="s" d="M60.5 576.5 L60.5 592.5 L69.5 592.5 L69.5 576.5"/>
<path class="s" d="M72.6 588.7 L55.7 579.8"/>
<polygon class="k" points="52.8,578.3 58.6,579.2 56.8,582.5"/>
<path class="s" d="M64.3 543.2 L68.5 542.3 L60.1 540.6 L68.5 538.9 L60.1 537.1 L68.5 535.4 L60.1 533.7 L64.3 532.8"/>
<path class="s" d="M50.3 554.3 L40.8 543.7"/>
<path class="d2" d="M40.5 543.5 L40.5 531.5 L56.5 531.5 L56.5 543.5"/>
<path class="s" d="M78.5 555.8 L84.3 549.9 L90.1 555.8 L84.3 561.7 Z"/>
<path class="s" d="M84.5 549.5 L84.5 561.5"/>
<path class="s" d="M90.5 555.5 L97.5 555.5"/>
<path class="d" d="M68.5 547.5 L105.5 547.5"/>
<path class="d" d="M97.5 461.5 L97.5 382.5 L114.5 382.5"/>
<path class="d" d="M105.5 469.5 L105.5 390.5 L114.5 390.5"/>
<path class="d" d="M50.5 460.5 L31.5 460.5 L31.5 411.5 L89.5 411.5 L89.5 436.5 L114.5 436.5"/>
<path class="s" d="M77.2 403.9 L81.5 408.4 L85.8 403.9"/>
<path class="s" d="M77.2 418.9 L81.5 414.4 L85.8 418.9"/>
<text x="42.5" y="432.5" font-size="9" text-anchor="start" transform="rotate(-90 42.5 432.5)">b1</text>
<text x="84.4" y="447.3" font-size="9" text-anchor="start" transform="rotate(-90 84.4 447.3)">DUE8</text>
<text x="112.6" y="442.4" font-size="7" text-anchor="start" transform="rotate(-90 112.6 442.4)">b</text>
<text x="96.4" y="387.2" font-size="7" text-anchor="start" transform="rotate(-90 96.4 387.2)">X3</text>
<text x="105.0" y="397.6" font-size="7" text-anchor="start" transform="rotate(-90 105.0 397.6)">Y3</text>
<path class="d" d="M97.5 555.5 L97.5 629.5 L114.5 629.5"/>
<path class="d" d="M105.5 547.5 L105.5 621.5 L114.5 621.5"/>
<path class="d" d="M50.5 556.5 L31.5 556.5 L31.5 605.5 L89.5 605.5 L89.5 592.5 L114.5 592.5"/>
<path class="s" d="M77.2 597.9 L81.5 602.4 L85.8 597.9"/>
<path class="s" d="M77.2 612.9 L81.5 608.4 L85.8 612.9"/>
<text x="43.8" y="595.5" font-size="9" text-anchor="start" transform="rotate(-90 43.8 595.5)">a1</text>
<text x="84.6" y="592.2" font-size="9" text-anchor="start" transform="rotate(-90 84.6 592.2)">DUE7</text>
<text x="110.6" y="590.5" font-size="7" text-anchor="start" transform="rotate(-90 110.6 590.5)">a</text>
<text x="95.5" y="632.5" font-size="7" text-anchor="start" transform="rotate(-90 95.5 632.5)">X2</text>
<text x="112.0" y="621.0" font-size="7" text-anchor="start" transform="rotate(-90 112.0 621.0)">Y2</text>
<path class="dd" d="M114.5 374.5 L23.5 374.5 L23.5 493.5 L114.5 493.5"/>
<path class="dd" d="M114.5 522.5 L23.5 522.5 L23.5 637.5 L114.5 637.5"/>
<path class="s" d="M50.5 720.5 L50.5 753.5"/>
<path class="b" d="M52.5 720.5 L52.5 753.5"/>
<path class="b" d="M68.5 720.5 L68.5 753.5"/>
<path class="s" d="M70.5 720.5 L70.5 753.5"/>
<path class="s" d="M50.5 720.5 L70.5 720.5"/>
<path class="s" d="M52.5 753.5 L68.5 753.5"/>
<path class="s" d="M52.5 736.5 L62.5 736.5"/>
<path class="b" d="M68.5 724.5 L56.5 724.5"/>
<polygon class="k" points="53.2,724.3 57.7,722.6 57.7,726.0"/>
<path class="s" d="M64.5 730.5 L64.5 736.5"/>
<path class="s" d="M62.5 730.5 L67.5 730.5"/>
<path class="s" d="M64.5 733.5 L68.5 733.5"/>
<path class="s" d="M64.5 736.5 L64.5 740.5 L78.5 740.5"/>
<path class="b" d="M51.4 740.7 L64.0 746.7"/>
<polygon class="k" points="67.6,748.4 62.3,748.0 63.9,744.5"/>
<path class="s" d="M60.5 711.5 L60.5 703.5 L68.5 703.5 L68.5 720.5"/>
<path class="s" d="M60.4 720.1 L60.4 716.2 L68.5 708.2"/>
<path class="s" d="M60.4 711.2 L64.0 714.2"/>
<path class="s" d="M72.5 716.1 L54.8 706.8"/>
<polygon class="k" points="51.9,705.3 57.7,706.2 55.9,709.5"/>
<path class="s" d="M64.3 753.3 L60.1 754.2 L68.5 755.9 L60.1 757.6 L68.5 759.4 L60.1 761.1 L68.5 762.8 L64.3 763.7"/>
<path class="s" d="M50.3 742.2 L40.8 752.8"/>
<path class="d2" d="M40.5 752.5 L40.5 764.5 L56.5 764.5 L56.5 753.5"/>
<path class="s" d="M78.5 740.7 L84.3 734.8 L90.1 740.7 L84.3 746.6 Z"/>
<path class="s" d="M84.5 734.5 L84.5 746.5"/>
<path class="s" d="M90.5 740.5 L97.5 740.5"/>
<path class="s" d="M68.5 749.5 L105.5 749.5"/>
<path class="s" d="M50.5 856.5 L50.5 822.5"/>
<path class="b" d="M52.5 856.5 L52.5 822.5"/>
<path class="b" d="M68.5 856.5 L68.5 822.5"/>
<path class="s" d="M70.5 856.5 L70.5 822.5"/>
<path class="s" d="M50.5 856.5 L70.5 856.5"/>
<path class="s" d="M52.5 822.5 L68.5 822.5"/>
<path class="s" d="M52.5 840.5 L62.5 840.5"/>
<path class="b" d="M68.5 851.5 L56.5 851.5"/>
<polygon class="k" points="53.2,851.9 57.7,850.2 57.7,853.6"/>
<path class="s" d="M64.5 846.5 L64.5 840.5"/>
<path class="s" d="M62.5 846.5 L67.5 846.5"/>
<path class="s" d="M64.5 843.5 L68.5 843.5"/>
<path class="s" d="M64.5 840.5 L64.5 835.5 L78.5 835.5"/>
<path class="b" d="M51.4 835.5 L64.0 829.5"/>
<polygon class="k" points="67.6,827.8 63.9,831.7 62.3,828.2"/>
<path class="s" d="M60.5 856.5 L60.5 872.5 L69.5 872.5 L69.5 856.5"/>
<path class="s" d="M72.6 868.4 L55.7 859.5"/>
<polygon class="k" points="52.8,858.0 58.6,858.9 56.8,862.2"/>
<path class="s" d="M64.3 822.9 L68.5 822.0 L60.1 820.3 L68.5 818.6 L60.1 816.8 L68.5 815.1 L60.1 813.4 L64.3 812.5"/>
<path class="s" d="M50.3 834.0 L40.8 823.4"/>
<path class="d2" d="M40.5 823.5 L40.5 811.5 L56.5 811.5 L56.5 822.5"/>
<path class="s" d="M78.5 835.5 L84.3 829.6 L90.1 835.5 L84.3 841.4 Z"/>
<path class="s" d="M84.5 829.5 L84.5 841.5"/>
<path class="s" d="M90.5 835.5 L97.5 835.5"/>
<path class="d" d="M68.5 827.5 L105.5 827.5"/>
<path class="d" d="M97.5 740.5 L97.5 662.5 L114.5 662.5"/>
<path class="d" d="M105.5 749.5 L105.5 670.5 L114.5 670.5"/>
<path class="d" d="M50.5 740.5 L31.5 740.5 L31.5 691.5 L89.5 691.5 L89.5 715.5 L114.5 715.5"/>
<path class="s" d="M77.2 683.6 L81.5 688.1 L85.8 683.6"/>
<path class="s" d="M77.2 698.6 L81.5 694.1 L85.8 698.6"/>
<text x="42.5" y="712.2" font-size="9" text-anchor="start" transform="rotate(-90 42.5 712.2)">b1</text>
<text x="84.4" y="727.0" font-size="9" text-anchor="start" transform="rotate(-90 84.4 727.0)">DUE8</text>
<text x="112.6" y="722.1" font-size="7" text-anchor="start" transform="rotate(-90 112.6 722.1)">b</text>
<text x="96.4" y="666.9" font-size="7" text-anchor="start" transform="rotate(-90 96.4 666.9)">X3</text>
<text x="112.7" y="683.9" font-size="7" text-anchor="start" transform="rotate(-90 112.7 683.9)">Y3</text>
<path class="d" d="M97.5 835.5 L97.5 909.5 L114.5 909.5"/>
<path class="d" d="M105.5 827.5 L105.5 901.5 L114.5 901.5"/>
<path class="d" d="M50.5 836.5 L31.5 836.5 L31.5 885.5 L89.5 885.5 L89.5 872.5 L114.5 872.5"/>
<path class="s" d="M77.2 877.6 L81.5 882.1 L85.8 877.6"/>
<path class="s" d="M77.2 892.6 L81.5 888.1 L85.8 892.6"/>
<text x="43.8" y="875.2" font-size="9" text-anchor="start" transform="rotate(-90 43.8 875.2)">a1</text>
<text x="84.6" y="871.9" font-size="9" text-anchor="start" transform="rotate(-90 84.6 871.9)">DUE7</text>
<text x="110.6" y="870.2" font-size="7" text-anchor="start" transform="rotate(-90 110.6 870.2)">a</text>
<text x="95.5" y="912.2" font-size="7" text-anchor="start" transform="rotate(-90 95.5 912.2)">X2</text>
<text x="112.0" y="900.7" font-size="7" text-anchor="start" transform="rotate(-90 112.0 900.7)">Y2</text>
<path class="dd" d="M114.5 654.5 L23.5 654.5 L23.5 772.5 L114.5 772.5"/>
<path class="dd" d="M114.5 802.5 L23.5 802.5 L23.5 917.5 L114.5 917.5"/>
<path class="b" d="M476.5 132.5 L476.5 146.5"/>
<path class="b" d="M476.5 162.5 L476.5 212.5"/>
<circle class="k" cx="476.5" cy="132.5" r="2.1"/>
<path class="sw" d="M467.5 146.5 L484.5 146.5 L484.5 162.5 L467.5 162.5 Z"/>
<path class="s" d="M456.5 150.5 L467.5 150.5"/>
<path class="s" d="M456.5 158.5 L467.5 158.5"/>
<path class="s" d="M456.5 150.5 L456.5 158.5"/>
<polygon class="k" points="456.6,154.5 461.4,151.0 461.4,158.0"/>
<path class="b" d="M461.5 151.5 L461.5 158.5"/>
<path class="s" d="M456.1 154.5 L454.2 149.0 L451.6 159.6 L449.2 149.6 L447.0 158.6 L445.6 154.4"/>
<path class="s" d="M453.6 144.0 L444.3 161.4"/>
<polygon class="k" points="442.6,164.6 443.8,158.4 447.1,160.2"/>
<path class="b" d="M480.5 146.5 L480.5 157.5"/>
<polygon class="k" points="477.9,156.0 482.5,156.0 480.2,161.8"/>
<path class="s" d="M476.0 146.4 L484.2 137.7"/>
<path class="d2" d="M484.5 137.5 L492.5 137.5"/>
<path class="s" d="M492.5 137.5 L492.5 154.5 L484.5 154.5"/>
<path class="s" d="M476.0 162.4 L468.4 170.0"/>
<path class="d2" d="M468.5 170.5 L455.5 170.5 L455.5 158.5"/>
<text x="503.5" y="163.5" font-size="9" text-anchor="start" transform="rotate(-90 503.5 163.5)">260 bar</text>
<text x="488.0" y="194.4" font-size="9.3" text-anchor="start" transform="rotate(-90 488.0 194.4)">DB</text>
<path class="b" d="M476.5 261.5 L476.5 290.5"/>
<path class="b" d="M476.5 306.5 L476.5 321.5"/>
<circle class="k" cx="476.5" cy="321.5" r="2.1"/>
<path class="sw" d="M467.5 290.5 L484.5 290.5 L484.5 306.5 L467.5 306.5 Z"/>
<path class="s" d="M456.5 294.5 L467.5 294.5"/>
<path class="s" d="M456.5 302.5 L467.5 302.5"/>
<path class="s" d="M456.5 294.5 L456.5 302.5"/>
<polygon class="k" points="456.6,298.4 461.4,294.9 461.4,301.9"/>
<path class="b" d="M461.5 294.5 L461.5 301.5"/>
<path class="s" d="M456.1 298.2 L454.2 303.7 L451.6 293.1 L449.2 303.1 L447.0 294.1 L445.6 298.3"/>
<path class="s" d="M453.6 308.7 L444.3 291.3"/>
<polygon class="k" points="442.6,288.1 447.1,292.5 443.8,294.3"/>
<path class="b" d="M480.5 306.5 L480.5 295.5"/>
<polygon class="k" points="477.9,296.7 482.5,296.7 480.2,290.9"/>
<path class="s" d="M476.0 306.3 L484.2 315.0"/>
<path class="d2" d="M484.5 315.5 L492.5 315.5"/>
<path class="s" d="M492.5 315.5 L492.5 298.5 L484.5 298.5"/>
<path class="s" d="M476.0 290.3 L468.4 282.7"/>
<path class="d2" d="M468.5 282.5 L455.5 282.5 L455.5 294.5"/>
<text x="506.0" y="315.3" font-size="9" text-anchor="start" transform="rotate(-90 506.0 315.3)">260 bar</text>
<text x="487.2" y="280.5" font-size="9.3" text-anchor="start" transform="rotate(-90 487.2 280.5)">DA</text>
<circle class="k" cx="476.5" cy="691.5" r="2.1"/>
<path class="b" d="M476.5 691.5 L476.5 705.5"/>
<path class="g2" d="M476.5 722.5 L476.5 771.5"/>
<path class="gw" d="M467.5 705.5 L484.5 705.5 L484.5 722.5 L467.5 722.5 Z"/>
<path class="b" d="M476.5 705.5 L476.5 708.5"/>
<path class="b" d="M476.5 720.5 L476.5 722.5"/>
<path class="s" d="M476.1 708.2 L478.2 709.3 L474.4 710.7 L478.2 712.1 L474.4 713.5 L476.1 714.4"/>
<path class="sw" d="M472.2 717.3 L476.1 714.6 L480.0 717.3 L476.1 720.0 Z"/>
<path class="b" d="M471.6 716.6 L476.1 720.6 L480.6 716.6"/>
<text x="487.8" y="744.2" font-size="9.3" text-anchor="start" transform="rotate(-90 487.8 744.2)">DB</text>
<path class="b" d="M476.5 821.5 L476.5 849.5"/>
<path class="b" d="M476.5 865.5 L476.5 880.5"/>
<circle class="k" cx="476.5" cy="880.5" r="2.1"/>
<path class="sw" d="M467.5 849.5 L484.5 849.5 L484.5 865.5 L467.5 865.5 Z"/>
<path class="s" d="M456.5 854.5 L467.5 854.5"/>
<path class="s" d="M456.5 861.5 L467.5 861.5"/>
<path class="s" d="M456.5 854.5 L456.5 861.5"/>
<polygon class="k" points="456.6,857.8 461.4,854.3 461.4,861.3"/>
<path class="b" d="M461.5 854.5 L461.5 861.5"/>
<path class="s" d="M456.1 857.6 L454.2 863.1 L451.6 852.5 L449.2 862.5 L447.0 853.5 L445.6 857.7"/>
<path class="s" d="M453.6 868.1 L444.3 850.7"/>
<polygon class="k" points="442.6,847.5 447.1,851.9 443.8,853.7"/>
<path class="b" d="M480.5 865.5 L480.5 854.5"/>
<polygon class="k" points="477.9,856.1 482.5,856.1 480.2,850.3"/>
<path class="s" d="M476.0 865.7 L484.2 874.4"/>
<path class="d2" d="M484.5 874.5 L492.5 874.5"/>
<path class="s" d="M492.5 874.5 L492.5 857.5 L484.5 857.5"/>
<path class="s" d="M476.0 849.7 L468.4 842.1"/>
<path class="d2" d="M468.5 842.5 L455.5 842.5 L455.5 853.5"/>
<text x="504.6" y="875.4" font-size="9" text-anchor="start" transform="rotate(-90 504.6 875.4)">230 bar</text>
<text x="487.6" y="837.8" font-size="9.3" text-anchor="start" transform="rotate(-90 487.6 837.8)">DA</text>
<text x="126.7" y="209.4" font-size="9" text-anchor="start" transform="rotate(-90 126.7 209.4)">230 bar</text>
<text x="144.0" y="225.5" font-size="9" text-anchor="start" transform="rotate(-90 144.0 225.5)">D7</text>
<text x="124.3" y="291.6" font-size="9" text-anchor="start" transform="rotate(-90 124.3 291.6)">230 bar</text>
<text x="144.0" y="302.6" font-size="9" text-anchor="start" transform="rotate(-90 144.0 302.6)">D6</text>
<text x="124.2" y="487.8" font-size="9" text-anchor="start" transform="rotate(-90 124.2 487.8)">60 bar</text>
<text x="144.0" y="504.9" font-size="9" text-anchor="start" transform="rotate(-90 144.0 504.9)">D7</text>
<text x="126.8" y="573.4" font-size="9" text-anchor="start" transform="rotate(-90 126.8 573.4)">310 bar</text>
<text x="144.0" y="582.0" font-size="9" text-anchor="start" transform="rotate(-90 144.0 582.0)">D6</text>
<text x="123.2" y="768.7" font-size="9" text-anchor="start" transform="rotate(-90 123.2 768.7)">80 bar</text>
<text x="144.0" y="784.6" font-size="9" text-anchor="start" transform="rotate(-90 144.0 784.6)">D7</text>
<text x="125.2" y="854.8" font-size="9" text-anchor="start" transform="rotate(-90 125.2 854.8)">200 bar</text>
<text x="144.0" y="861.7" font-size="9" text-anchor="start" transform="rotate(-90 144.0 861.7)">D6</text>
<path class="s" d="M114.5 94.5 L81.5 94.5"/>
<path class="dd" d="M81.5 94.5 L81.5 214.5"/>
<path class="s" d="M81.5 214.5 L114.5 214.5"/>
<path class="s" d="M80.5 156.5 L114.5 156.5"/>
<path class="s" d="M93.3 148.5 L97.6 153.0 L101.9 148.5"/>
<path class="s" d="M93.3 163.5 L97.6 159.0 L101.9 163.5"/>
<path class="s" d="M114.5 103.5 L108.5 103.5"/>
<path class="b" d="M108.5 101.5 L108.5 105.5"/>
<path class="s" d="M114.5 111.5 L108.5 111.5"/>
<path class="b" d="M108.5 108.5 L108.5 113.5"/>
<path class="s" d="M114.5 243.5 L81.5 243.5"/>
<path class="dd" d="M81.5 243.5 L81.5 357.5"/>
<path class="s" d="M81.5 357.5 L114.5 357.5"/>
<path class="s" d="M80.5 312.5 L114.5 312.5"/>
<path class="s" d="M93.3 305.3 L97.6 309.8 L101.9 305.3"/>
<path class="s" d="M93.3 320.3 L97.6 315.8 L101.9 320.3"/>
<path class="s" d="M114.5 341.5 L108.5 341.5"/>
<path class="b" d="M108.5 339.5 L108.5 343.5"/>
<path class="s" d="M114.5 349.5 L108.5 349.5"/>
<path class="b" d="M108.5 347.5 L108.5 351.5"/>
<text x="75.5" y="147.8" font-size="10" text-anchor="start" transform="rotate(-90 75.5 147.8)">b2</text>
<text x="91.5" y="145.4" font-size="9" text-anchor="start" transform="rotate(-90 91.5 145.4)">DUE8</text>
<text x="112.3" y="162.5" font-size="7" text-anchor="start" transform="rotate(-90 112.3 162.5)">b</text>
<text x="105.5" y="105.5" font-size="7" text-anchor="start" transform="rotate(-90 105.5 105.5)">Y3</text>
<text x="105.5" y="117.6" font-size="7" text-anchor="start" transform="rotate(-90 105.5 117.6)">X3</text>
<text x="75.5" y="303.0" font-size="10" text-anchor="start" transform="rotate(-90 75.5 303.0)">a2</text>
<text x="88.2" y="346.8" font-size="9" text-anchor="start" transform="rotate(-90 88.2 346.8)">DUE7</text>
<text x="112.3" y="311.5" font-size="7" text-anchor="start" transform="rotate(-90 112.3 311.5)">a</text>
<text x="105.5" y="343.2" font-size="7" text-anchor="start" transform="rotate(-90 105.5 343.2)">Y2</text>
<text x="105.5" y="355.4" font-size="7" text-anchor="start" transform="rotate(-90 105.5 355.4)">X2</text>
<circle class="k" cx="31.5" cy="740.5" r="1.8"/>
<path class="s" d="M31.5 740.5 L31.5 773.5"/>
<path class="bx" d="M27.9 770.0 L35.1 777.2"/>
<path class="bx" d="M27.9 777.2 L35.1 770.0"/>
<text x="29.5" y="797.5" font-size="10" text-anchor="start" transform="rotate(-90 29.5 797.5)">b2</text>
<path class="s" d="M205.5 855.5 L235.5 855.5"/>
<path class="s" d="M231.5 855.5 L231.5 867.5"/>
<path class="s" d="M235.5 855.5 L235.5 867.5"/>
<path class="s" d="M222.5 867.5 L235.5 867.5"/>
<text x="232.5" y="847.2" font-size="10" text-anchor="start" transform="rotate(-90 232.5 847.2)">H8</text>
<path class="s" d="M315.5 86.5 L315.5 81.5"/>
<path class="s" d="M313.5 81.5 L317.5 81.5"/>
<path class="s" d="M327.5 86.5 L327.5 81.5"/>
<path class="s" d="M325.5 81.5 L329.5 81.5"/>
<path class="s" d="M340.5 86.5 L340.5 81.5"/>
<path class="s" d="M337.5 81.5 L342.5 81.5"/>
<path class="s" d="M352.5 86.5 L352.5 81.5"/>
<path class="s" d="M350.5 81.5 L354.5 81.5"/>
<path class="s" d="M364.5 86.5 L364.5 81.5"/>
<path class="s" d="M362.5 81.5 L367.5 81.5"/>
<path class="s" d="M389.5 86.5 L389.5 81.5"/>
<path class="s" d="M387.5 81.5 L391.5 81.5"/>
<path class="s" d="M401.5 86.5 L401.5 81.5"/>
<path class="s" d="M399.5 81.5 L404.5 81.5"/>
<path class="s" d="M414.5 86.5 L414.5 81.5"/>
<path class="s" d="M412.5 81.5 L416.5 81.5"/>
<path class="s" d="M439.5 86.5 L439.5 81.5"/>
<path class="s" d="M437.5 81.5 L441.5 81.5"/>
<path class="d" d="M377.5 86.5 L377.5 59.5 L426.5 59.5 L426.5 86.5"/>
<path class="s" d="M237.5 925.5 L237.5 1041.5"/>
<path class="d" d="M237.5 962.5 L138.5 962.5 L138.5 991.5 L415.5 991.5"/>
<circle class="k" cx="414.5" cy="991.5" r="2.1"/>
<text x="235.6" y="974.2" font-size="7" text-anchor="start" transform="rotate(-90 235.6 974.2)">T1</text>
<text x="235.6" y="1004.5" font-size="7" text-anchor="start" transform="rotate(-90 235.6 1004.5)">P1</text>
<path class="sw" d="M167.5 954.5 L184.5 954.5 L184.5 971.5 L167.5 971.5 Z"/>
<path class="b" d="M171.5 967.5 L181.5 967.5 L181.5 958.5"/>
<polygon class="k" points="168.0,967.4 173.6,965.2 173.6,969.6"/>
<path class="s" d="M184.0 963.0 L192.7 972.2 L192.7 979.4 L175.7 979.4 L175.7 971.4"/>
<path class="s" d="M183.6 954.7 L181.0 946.5 L178.2 953.8 L176.0 945.2 L173.2 951.8 L171.8 946.5"/>
<path class="s" d="M184.4 952.6 L166.1 944.1"/>
<polygon class="k" points="163.1,942.7 168.9,943.3 167.3,946.7"/>
<path class="s" d="M196.1 955.5 L200.4 960.0 L204.7 955.5"/>
<path class="s" d="M196.1 970.5 L200.4 966.0 L204.7 970.5"/>
<text x="156.4" y="959.5" font-size="9" text-anchor="start" transform="rotate(-90 156.4 959.5)">320 bar</text>
<text x="162.0" y="983.0" font-size="9.5" text-anchor="start" transform="rotate(-90 162.0 983.0)">D1</text>
<text x="219.0" y="957.0" font-size="9.5" text-anchor="start" transform="rotate(-90 219.0 957.0)">DUE1</text>
<path class="sw" d="M249.5 954.5 L260.5 954.5 L260.5 971.5 L249.5 971.5 Z"/>
<path class="b" d="M250.8 957.5 L252.8 968.5 L254.9 958.5 L257.0 968.5 L259.2 957.5"/>
<path class="s" d="M260.5 954.5 L278.5 954.5 L278.5 971.5 L260.5 971.5"/>
<path class="s" d="M266.3 954.7 L266.3 950.5 L274.8 950.5 L286.8 963.0 L274.8 975.4 L266.3 975.4 L266.3 971.1"/>
<path class="s" d="M260.5 963.5 L278.5 963.5"/>
<path class="s" d="M272.3 959.8 L274.4 962.0 L276.5 959.8"/>
<path class="s" d="M272.3 966.2 L274.4 964.0 L276.5 966.2"/>
<path class="s" d="M237.5 962.5 L249.5 962.5"/>
<path class="s" d="M274.5 950.5 L274.5 938.5 L439.5 938.5 L439.5 925.5"/>
<circle class="k" cx="315.5" cy="938.5" r="2.1"/>
<circle class="k" cx="366.5" cy="938.5" r="2.1"/>
<circle class="k" cx="401.5" cy="938.5" r="2.1"/>
<circle class="k" cx="414.5" cy="938.5" r="2.1"/>
<circle class="k" cx="426.5" cy="938.5" r="2.1"/>
<path class="s" d="M287.0 962.8 L414.5 963.0"/>
<circle class="k" cx="389.5" cy="963.5" r="2.1"/>
<path class="d" d="M414.5 963.0 L509.3 962.8"/>
<path class="bx" d="M505.7 959.2 L512.9 966.4"/>
<path class="bx" d="M505.7 966.4 L512.9 959.2"/>
<text x="526.5" y="972.5" font-size="10" text-anchor="start" transform="rotate(-90 526.5 972.5)">MP</text>
<path class="d" d="M327.5 938.5 L327.5 1041.5"/>
<path class="d" d="M364.5 938.5 L364.5 1041.5"/>
<path class="d" d="M377.5 922.5 L377.5 1041.5"/>
<path class="s" d="M389.5 938.5 L389.5 1041.5"/>
<path class="s" d="M414.5 938.5 L414.5 1041.5"/>
<path class="d" d="M340.5 938.5 L340.5 981.5"/>
<path class="d" d="M352.5 938.5 L352.5 1024.5"/>
<path class="s" d="M327.5 981.5 L361.5 981.5"/>
<path class="s" d="M366.5 981.5 L414.5 981.5"/>
<circle class="k" cx="327.5" cy="981.5" r="2.1"/>
<circle class="k" cx="340.5" cy="981.5" r="2.1"/>
<circle class="k" cx="414.5" cy="981.5" r="2.1"/>
<path class="bx" d="M398.5 978.0 L405.5 985.0"/>
<path class="bx" d="M398.5 985.0 L405.5 978.0"/>
<text x="405.2" y="976.6" font-size="8" text-anchor="start" transform="rotate(-90 405.2 976.6)">G2</text>
<path class="s" d="M352.5 1024.5 L389.5 1024.5"/>
<circle class="k" cx="364.5" cy="1024.5" r="2.1"/>
<circle class="k" cx="389.5" cy="1024.5" r="2.1"/>
<path class="bx" d="M379.9 1020.8 L386.9 1027.8"/>
<path class="bx" d="M379.9 1027.8 L386.9 1020.8"/>
<text x="386.2" y="1018.6" font-size="8" text-anchor="start" transform="rotate(-90 386.2 1018.6)">G1</text>
<text x="331.5" y="1048.3" font-size="10.3" text-anchor="end" transform="rotate(-90 331.5 1048.3)">Y</text>
<text x="368.2" y="1048.3" font-size="10.3" text-anchor="end" transform="rotate(-90 368.2 1048.3)">X</text>
<text x="383.5" y="1048.3" font-size="10.3" text-anchor="end" transform="rotate(-90 383.5 1048.3)">XL</text>
<text x="395.9" y="1048.3" font-size="10.3" text-anchor="end" transform="rotate(-90 395.9 1048.3)">P</text>
<text x="418.3" y="1048.3" font-size="10.3" text-anchor="end" transform="rotate(-90 418.3 1048.3)">T</text>
<text x="427.5" y="954.5" font-size="7" text-anchor="start" transform="rotate(-90 427.5 954.5)">TB1</text>
<text x="440.0" y="954.5" font-size="7" text-anchor="start" transform="rotate(-90 440.0 954.5)">TA1</text>
<text x="312.8" y="937.3" font-size="7" text-anchor="start" transform="rotate(-90 312.8 937.3)">Y1</text>
<text x="325.1" y="937.3" font-size="7" text-anchor="start" transform="rotate(-90 325.1 937.3)">Y2</text>
<text x="337.5" y="937.3" font-size="7" text-anchor="start" transform="rotate(-90 337.5 937.3)">Y3</text>
<text x="350.0" y="937.3" font-size="7" text-anchor="start" transform="rotate(-90 350.0 937.3)">X2</text>
<text x="362.2" y="937.3" font-size="7" text-anchor="start" transform="rotate(-90 362.2 937.3)">X3</text>
<text x="374.5" y="937.3" font-size="7" text-anchor="start" transform="rotate(-90 374.5 937.3)">XL</text>
<text x="387.7" y="934.4" font-size="7" text-anchor="start" transform="rotate(-90 387.7 934.4)">P</text>
<text x="400.3" y="936.8" font-size="7" text-anchor="start" transform="rotate(-90 400.3 936.8)">TB</text>
<text x="413.0" y="936.8" font-size="7" text-anchor="start" transform="rotate(-90 413.0 936.8)">TA</text>
<path class="dl" d="M605.5 208.5 L744.5 208.5 L744.5 1050.5 L605.5 1050.5 Z"/>
<text x="619.6" y="1043.3" font-size="15.25" textLength="162.3" lengthAdjust="spacingAndGlyphs" transform="rotate(-90 619.6 1043.3)" class="hb">Ordering example SC18</text>
<circle class="bal" cx="639.6" cy="1035.5" r="8"/>
<text x="643.2" y="1035.5" font-size="10" text-anchor="middle" transform="rotate(-90 643.2 1035.5)">1</text>
<text x="642.2" y="1021.4" font-size="15.25" textLength="233" lengthAdjust="spacingAndGlyphs" transform="rotate(-90 642.2 1021.4)">SC18-MG320-11X-0000-00X-00-A</text>
<circle class="bal" cx="663" cy="1035.5" r="8"/>
<text x="666.6" y="1035.5" font-size="10" text-anchor="middle" transform="rotate(-90 666.6 1035.5)">2</text>
<text x="665.6" y="1021.4" font-size="15.25" textLength="441.9" lengthAdjust="spacingAndGlyphs" transform="rotate(-90 665.6 1021.4)">SC18-Y1G0-D200/D080-A260/160-E24A0X-X-HL-D230/N000-A-Z</text>
<circle class="bal" cx="686.5" cy="1035.5" r="8"/>
<text x="690.1" y="1035.5" font-size="10" text-anchor="middle" transform="rotate(-90 690.1 1035.5)">3</text>
<text x="689.2" y="1021.4" font-size="15.25" textLength="431.4" lengthAdjust="spacingAndGlyphs" transform="rotate(-90 689.2 1021.4)">SC18-Y2G0-D310/D060-C210/210-E24A0X-X-XX-S000/S000-A</text>
<circle class="bal" cx="706.7" cy="1035.5" r="8"/>
<text x="710.3" y="1035.5" font-size="10" text-anchor="middle" transform="rotate(-90 710.3 1035.5)">4</text>
<text x="712.5" y="1021.4" font-size="15.25" textLength="434.4" lengthAdjust="spacingAndGlyphs" transform="rotate(-90 712.5 1021.4)">SC18-Y3G0-D230/D230-C070/030-X00X0X-Y-XX-D260/D260-A</text>
<circle class="bal" cx="729.7" cy="1035.5" r="8"/>
<text x="733.3" y="1035.5" font-size="10" text-anchor="middle" transform="rotate(-90 733.3 1035.5)">5</text>
<text x="736.1" y="1021.4" font-size="15.25" textLength="120.8" lengthAdjust="spacingAndGlyphs" transform="rotate(-90 736.1 1021.4)">SC18-EXX-00X-A</text>
<text x="665.8" y="571.8" font-size="12" textLength="246.3" lengthAdjust="spacingAndGlyphs" transform="rotate(-90 665.8 571.8)">(Option Z = additional control port , actuator A)</text>
<circle class="o" cx="315.5" cy="86.5" r="1.9"/>
<circle class="o" cx="327.5" cy="86.5" r="1.9"/>
<circle class="o" cx="340.5" cy="86.5" r="1.9"/>
<circle class="o" cx="352.5" cy="86.5" r="1.9"/>
<circle class="o" cx="364.5" cy="86.5" r="1.9"/>
<circle class="o" cx="377.5" cy="86.5" r="1.9"/>
<circle class="o" cx="389.5" cy="86.5" r="1.9"/>
<circle class="o" cx="401.5" cy="86.5" r="1.9"/>
<circle class="o" cx="414.5" cy="86.5" r="1.9"/>
<circle class="o" cx="426.5" cy="86.5" r="1.9"/>
<circle class="o" cx="439.5" cy="86.5" r="1.9"/>
<circle class="o" cx="315.5" cy="365.5" r="1.9"/>
<circle class="o" cx="327.5" cy="365.5" r="1.9"/>
<circle class="o" cx="340.5" cy="365.5" r="1.9"/>
<circle class="o" cx="352.5" cy="365.5" r="1.9"/>
<circle class="o" cx="364.5" cy="365.5" r="1.9"/>
<circle class="o" cx="377.5" cy="365.5" r="1.9"/>
<circle class="o" cx="389.5" cy="365.5" r="1.9"/>
<circle class="o" cx="401.5" cy="365.5" r="1.9"/>
<circle class="o" cx="414.5" cy="365.5" r="1.9"/>
<circle class="o" cx="426.5" cy="365.5" r="1.9"/>
<circle class="o" cx="439.5" cy="365.5" r="1.9"/>
<circle class="o" cx="315.5" cy="645.5" r="1.9"/>
<circle class="o" cx="327.5" cy="645.5" r="1.9"/>
<circle class="o" cx="340.5" cy="645.5" r="1.9"/>
<circle class="o" cx="352.5" cy="645.5" r="1.9"/>
<circle class="o" cx="364.5" cy="645.5" r="1.9"/>
<circle class="o" cx="377.5" cy="645.5" r="1.9"/>
<circle class="o" cx="389.5" cy="645.5" r="1.9"/>
<circle class="o" cx="401.5" cy="645.5" r="1.9"/>
<circle class="o" cx="414.5" cy="645.5" r="1.9"/>
<circle class="o" cx="426.5" cy="645.5" r="1.9"/>
<circle class="o" cx="439.5" cy="645.5" r="1.9"/>
<circle class="o" cx="315.5" cy="925.5" r="1.9"/>
<circle class="o" cx="327.5" cy="925.5" r="1.9"/>
<circle class="o" cx="340.5" cy="925.5" r="1.9"/>
<circle class="o" cx="352.5" cy="925.5" r="1.9"/>
<circle class="o" cx="364.5" cy="925.5" r="1.9"/>
<circle class="o" cx="377.5" cy="925.5" r="1.9"/>
<circle class="o" cx="389.5" cy="925.5" r="1.9"/>
<circle class="o" cx="401.5" cy="925.5" r="1.9"/>
<circle class="o" cx="414.5" cy="925.5" r="1.9"/>
<circle class="o" cx="426.5" cy="925.5" r="1.9"/>
<circle class="o" cx="439.5" cy="925.5" r="1.9"/>
<circle class="o" cx="509.5" cy="132.5" r="2.0"/>
<circle class="o" cx="509.5" cy="321.5" r="2.0"/>
<circle class="o" cx="509.5" cy="411.5" r="2.0"/>
<circle class="o" cx="509.5" cy="600.5" r="2.0"/>
<circle class="o" cx="509.5" cy="691.5" r="2.0"/>
<circle class="o" cx="509.5" cy="880.5" r="2.0"/>
<circle class="o" cx="114.5" cy="382.5" r="1.7"/>
<circle class="o" cx="114.5" cy="390.5" r="1.7"/>
<circle class="o" cx="114.5" cy="436.5" r="1.7"/>
<circle class="o" cx="114.5" cy="592.5" r="1.7"/>
<circle class="o" cx="114.5" cy="621.5" r="1.7"/>
<circle class="o" cx="114.5" cy="629.5" r="1.7"/>
<circle class="o" cx="114.5" cy="662.5" r="1.7"/>
<circle class="o" cx="114.5" cy="670.5" r="1.7"/>
<circle class="o" cx="114.5" cy="715.5" r="1.7"/>
<circle class="o" cx="114.5" cy="872.5" r="1.7"/>
<circle class="o" cx="114.5" cy="901.5" r="1.7"/>
<circle class="o" cx="114.5" cy="909.5" r="1.7"/>
<circle class="o" cx="80.5" cy="156.5" r="1.8"/>
<circle class="o" cx="114.5" cy="156.5" r="1.8"/>
<circle class="o" cx="114.5" cy="103.5" r="1.7"/>
<circle class="o" cx="114.5" cy="111.5" r="1.7"/>
<circle class="o" cx="80.5" cy="312.5" r="1.8"/>
<circle class="o" cx="114.5" cy="312.5" r="1.8"/>
<circle class="o" cx="114.5" cy="341.5" r="1.7"/>
<circle class="o" cx="114.5" cy="349.5" r="1.7"/>
<circle class="o" cx="220.5" cy="867.5" r="2.0"/>
<circle class="o" cx="237.5" cy="962.5" r="1.9"/>
<circle class="o" cx="237.5" cy="991.5" r="1.9"/>
<circle class="o" cx="327.5" cy="1041.5" r="1.9"/>
<circle class="o" cx="364.5" cy="1041.5" r="1.9"/>
<circle class="o" cx="377.5" cy="1041.5" r="1.9"/>
<circle class="o" cx="389.5" cy="1041.5" r="1.9"/>
<circle class="o" cx="414.5" cy="1041.5" r="1.9"/>
</svg>
</body></html>
